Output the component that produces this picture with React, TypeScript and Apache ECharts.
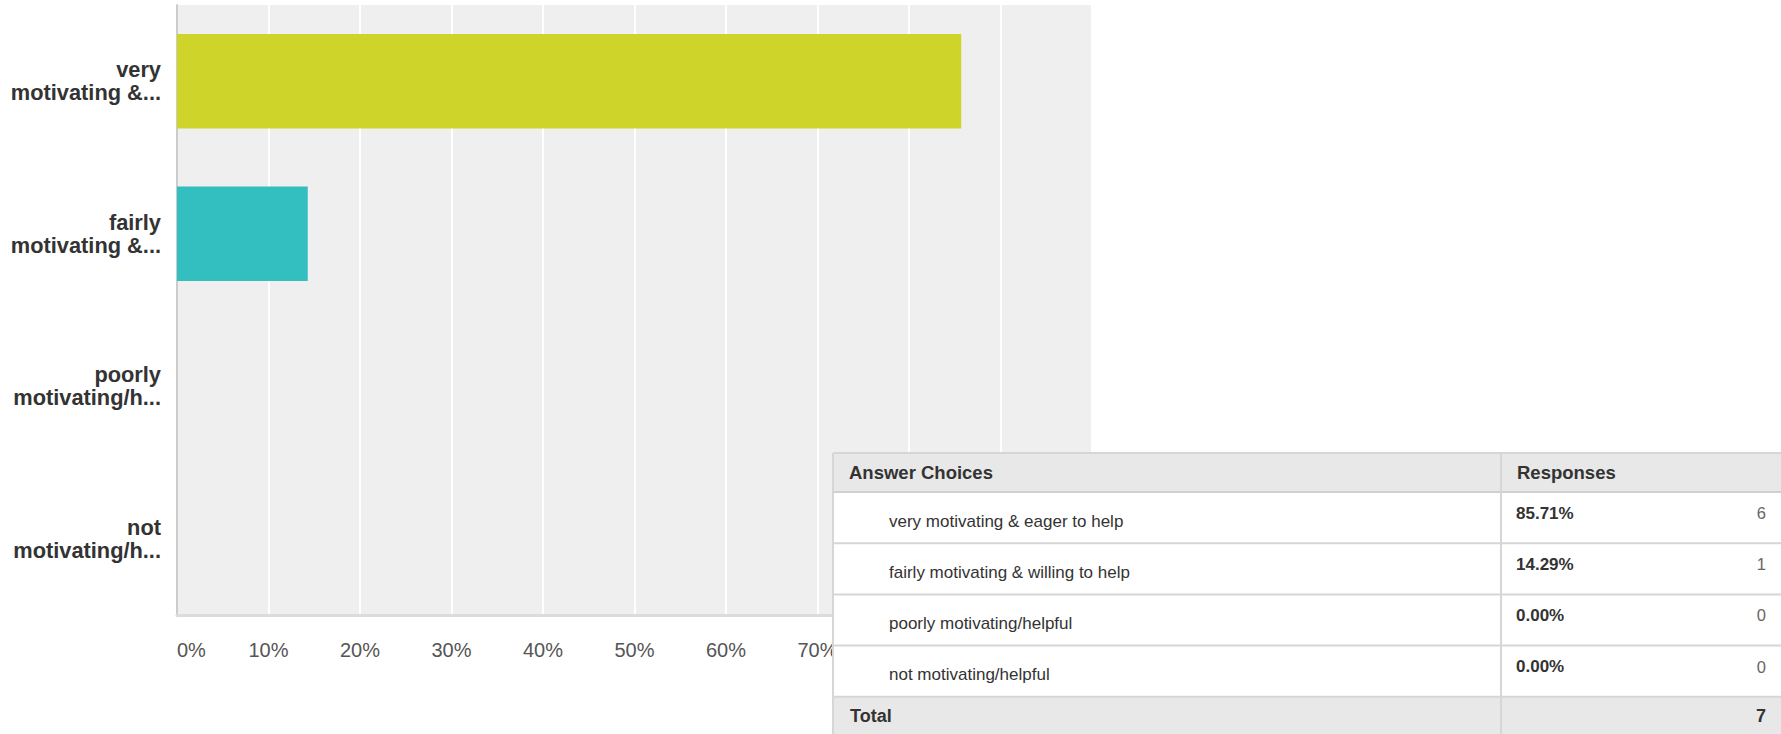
import React, { useEffect, useRef } from "react";
import * as echarts from "echarts";

// ---- data ----
const categories = [
  "very\nmotivating &...",
  "fairly\nmotivating &...",
  "poorly\nmotivating/h...",
  "not\nmotivating/h...",
];
const answerChoices = [
  "very motivating & eager to help",
  "fairly motivating & willing to help",
  "poorly motivating/helpful",
  "not motivating/helpful",
];
const percentValues = [85.71, 14.29, 0, 0];
const responseCounts = [6, 1, 0, 0];
const totalResponses = 7;
const barColors = ["#cfd42a", "#33bec0", "#f7b131", "#7e7e7e"];
const tableHeaders = ["Answer Choices", "Responses"];
const totalLabel = "Total";

export default function App() {
  const ref = useRef<HTMLDivElement>(null);

  useEffect(() => {
    if (!ref.current) return;
    const chart = echarts.init(ref.current, undefined, { renderer: "svg" });

    const font = "'Liberation Sans', Arial, sans-serif";
    const tLeft = 833;
    const tRight = 1790;
    const divX = 1501;
    const headerTop = 453;
    const headerBottom = 492;
    const rowH = 51.2;
    const lineColor = "#d6d6d6";
    const headBg = "#e8e8e8";
    const Z = 100;

    const children: any[] = [];
    children.push({
      type: "rect",
      z: Z,
      shape: { x: tLeft, y: headerTop, width: tRight - tLeft, height: 800 - headerTop },
      style: { fill: "#ffffff" },
    });
    children.push({
      type: "rect",
      z: Z + 1,
      shape: { x: tLeft, y: headerTop, width: tRight - tLeft, height: headerBottom - headerTop },
      style: { fill: headBg },
    });
    const totalTop = headerBottom + rowH * answerChoices.length;
    children.push({
      type: "rect",
      z: Z + 1,
      shape: { x: tLeft, y: totalTop, width: tRight - tLeft, height: 800 - totalTop },
      style: { fill: headBg },
    });
    const hl = (y: number, w: number, c: string) =>
      children.push({
        type: "line",
        z: Z + 2,
        shape: { x1: tLeft, y1: y, x2: tRight, y2: y },
        style: { stroke: c, lineWidth: w },
      });
    hl(headerTop, 2, lineColor);
    hl(headerBottom, 2, "#d0d0d0");
    for (let i = 1; i <= answerChoices.length; i++) hl(headerBottom + rowH * i, 2, lineColor);
    children.push({
      type: "line",
      z: Z + 2,
      shape: { x1: tLeft, y1: headerTop, x2: tLeft, y2: 800 },
      style: { stroke: lineColor, lineWidth: 2 },
    });
    children.push({
      type: "line",
      z: Z + 2,
      shape: { x1: divX, y1: headerTop, x2: divX, y2: 800 },
      style: { stroke: lineColor, lineWidth: 2 },
    });
    const headY = (headerTop + headerBottom) / 2;
    children.push({
      type: "text",
      z: Z + 3,
      x: 849,
      y: headY,
      style: {
        text: tableHeaders[0],
        font: `bold 18.5px ${font}`,
        fill: "#333333",
        verticalAlign: "middle",
      },
    });
    children.push({
      type: "text",
      z: Z + 3,
      x: 1517,
      y: headY,
      style: {
        text: tableHeaders[1],
        font: `bold 18.5px ${font}`,
        fill: "#333333",
        verticalAlign: "middle",
      },
    });
    answerChoices.forEach((label, i) => {
      const top = headerBottom + rowH * i;
      children.push({
        type: "text",
        z: Z + 3,
        x: 889,
        y: top + 29,
        style: { text: label, font: `17px ${font}`, fill: "#333333", verticalAlign: "middle" },
      });
      children.push({
        type: "text",
        z: Z + 3,
        x: 1516,
        y: top + 21,
        style: {
          text: percentValues[i].toFixed(2) + "%",
          font: `bold 17px ${font}`,
          fill: "#333333",
          verticalAlign: "middle",
        },
      });
      children.push({
        type: "text",
        z: Z + 3,
        x: 1766,
        y: top + 21,
        style: {
          text: String(responseCounts[i]),
          font: `16.5px ${font}`,
          fill: "#666666",
          align: "right",
          verticalAlign: "middle",
        },
      });
    });
    const totY = totalTop + 19;
    children.push({
      type: "text",
      z: Z + 3,
      x: 850,
      y: totY,
      style: { text: totalLabel, font: `bold 18px ${font}`, fill: "#333333", verticalAlign: "middle" },
    });
    children.push({
      type: "text",
      z: Z + 3,
      x: 1766,
      y: totY,
      style: {
        text: String(totalResponses),
        font: `bold 18px ${font}`,
        fill: "#333333",
        align: "right",
        verticalAlign: "middle",
      },
    });

    chart.setOption({
      animation: false,
      backgroundColor: "#ffffff",
      grid: {
        left: 177,
        top: 5,
        width: 915,
        height: 610,
        show: true,
        backgroundColor: "#efefef",
        borderWidth: 0,
      },
      xAxis: {
        type: "value",
        min: 0,
        max: 100,
        interval: 10,
        axisLine: { show: true, lineStyle: { color: "#dcdcdc", width: 3 } },
        axisTick: { show: false },
        splitLine: { show: true, lineStyle: { color: "#ffffff", width: 2 } },
        axisLabel: {
          formatter: "{value}%",
          fontFamily: font,
          fontSize: 20,
          color: "#555555",
          margin: 25,
          alignMinLabel: "left",
        },
      },
      yAxis: {
        type: "category",
        inverse: true,
        data: categories,
        axisLine: { show: true, lineStyle: { color: "#cccccc", width: 2 } },
        axisTick: { show: false },
        splitLine: { show: false },
        axisLabel: {
          fontFamily: font,
          fontSize: 21.8,
          fontWeight: "bold",
          color: "#333333",
          lineHeight: 23,
          margin: 16,
          align: "right",
        },
      },
      series: [
        {
          type: "bar",
          data: percentValues.map((v, i) => ({ value: v, itemStyle: { color: barColors[i] } })),
          barCategoryGap: "38%",
          silent: true,
        },
      ],
      graphic: [{ type: "group", z: Z, children }],
    });

    return () => chart.dispose();
  }, []);

  return (
    <div
      ref={ref}
      style={{ position: "absolute", left: 0, top: 0, width: 1781, height: 734 }}
    />
  );
}
